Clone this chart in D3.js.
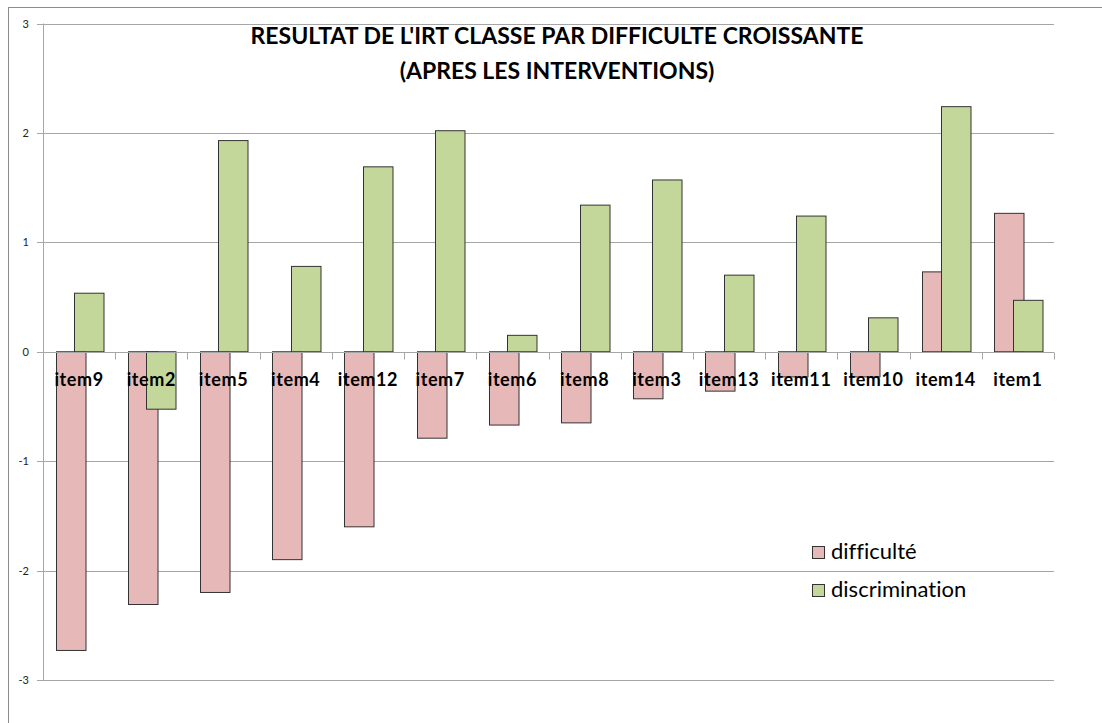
<!DOCTYPE html>
<html>
<head>
<meta charset="utf-8">
<script src="https://cdn.jsdelivr.net/npm/d3@7.9.0/dist/d3.min.js"></script>
<style>
  body { margin: 0; background: #fff; }
  svg { display: block; font-family: Lato, "Open Sans", sans-serif; font-variant-ligatures: none; }
</style>
</head>
<body>
<svg width="1102" height="723"></svg>
<script>
const items = ['item9', 'item2', 'item5', 'item4', 'item12', 'item7', 'item6', 'item8', 'item3', 'item13', 'item11', 'item10', 'item14', 'item1'];
const difficulte = [-2.73, -2.31, -2.20, -1.90, -1.60, -0.79, -0.67, -0.65, -0.43, -0.36, -0.23, -0.23, 0.73, 1.265];
const discrimination = [0.535, -0.525, 1.93, 0.78, 1.69, 2.02, 0.15, 1.34, 1.57, 0.70, 1.24, 0.31, 2.24, 0.47];
const yTicks = [-3, -2, -1, 0, 1, 2, 3];
const seriesNames = ['difficulté', 'discrimination'];
const seriesColors = ['#e6b9b8', '#c4d79b'];

const svg = d3.select('svg');

// outer chart border (runs off the page right and bottom)
svg.append('rect')
  .attr('x', 8.5).attr('y', 7.5)
  .attr('width', 1200).attr('height', 800)
  .attr('fill', 'none').attr('stroke', '#8c8c8c');

let x = d3.scaleBand().domain(items).range([43, 1054]);
let y = d3.scaleLinear().domain([-3, 3]).range([680, 23.5]);

// gridlines
svg.append('g')
  .selectAll('line')
  .data(yTicks)
  .join('line')
  .attr('x1', 37).attr('x2', 1054)
  .attr('y1', d => Math.round(y(d)) + 0.5)
  .attr('y2', d => Math.round(y(d)) + 0.5)
  .attr('stroke', '#a6a6a6');

// y labels
svg.append('g')
  .selectAll('text')
  .data(yTicks)
  .join('text')
  .attr('x', 29)
  .attr('y', d => y(d) + 4)
  .attr('text-anchor', 'end')
  .attr('font-size', 11)
  .attr('fill', '#222')
  .text(d => d);

// y axis line
svg.append('line')
  .attr('x1', 43.5).attr('x2', 43.5)
  .attr('y1', y(3)).attr('y2', y(-3))
  .attr('stroke', '#a6a6a6');

const bw = 29.5;
const offsets = [12.5, 31];
[difficulte, discrimination].forEach((vals, s) => {
  svg.append('g')
    .selectAll('rect')
    .data(vals)
    .join('rect')
    .attr('x', (d, i) => Math.round(x(items[i]) + offsets[s]) + 0.5)
    .attr('y', d => y(Math.max(0, d)))
    .attr('width', bw)
    .attr('height', d => Math.abs(y(d) - y(0)))
    .attr('fill', seriesColors[s])
    .attr('stroke', '#333')
    .attr('stroke-width', 1);
});

// zero axis with tick marks below it
const y0 = Math.round(y(0)) + 0.5;
svg.append('line')
  .attr('x1', 43).attr('x2', 1054)
  .attr('y1', y0).attr('y2', y0)
  .attr('stroke', '#a6a6a6');
svg.append('g')
  .selectAll('line')
  .data(items.concat(['end']))
  .join('line')
  .attr('x1', (d, i) => Math.round(43 + i * x.bandwidth()) + 0.5)
  .attr('x2', (d, i) => Math.round(43 + i * x.bandwidth()) + 0.5)
  .attr('y1', y0).attr('y2', y0 + 7)
  .attr('stroke', '#a6a6a6');

// category labels
svg.append('g')
  .selectAll('text')
  .data(items)
  .join('text')
  .attr('x', d => x(d) + x.bandwidth() / 2)
  .attr('y', 386)
  .attr('text-anchor', 'middle')
  .attr('font-size', 18)
  .attr('letter-spacing', 0.6)
  .attr('font-weight', 'bold')
  .attr('fill', '#000')
  .text(d => d);

// title
const title = ["RESULTAT DE L'IRT CLASSE PAR DIFFICULTE CROISSANTE", '(APRES LES INTERVENTIONS)'];
svg.append('g')
  .selectAll('text')
  .data(title)
  .join('text')
  .attr('x', 557)
  .attr('y', (d, i) => 44 + i * 35)
  .attr('text-anchor', 'middle')
  .attr('font-size', 23)
  .attr('font-weight', 'bold')
  .attr('fill', '#000')
  .text(d => d);

// legend
const legend = svg.append('g');
seriesNames.forEach((name, i) => {
  legend.append('rect')
    .attr('x', 812.5).attr('y', 546.5 + i * 38)
    .attr('width', 12).attr('height', 12)
    .attr('fill', seriesColors[i])
    .attr('stroke', '#333');
  legend.append('text')
    .attr('x', 831).attr('y', 559 + i * 38)
    .attr('font-size', 22)
    .attr('fill', '#000')
    .text(name);
});
</script>
</body>
</html>
